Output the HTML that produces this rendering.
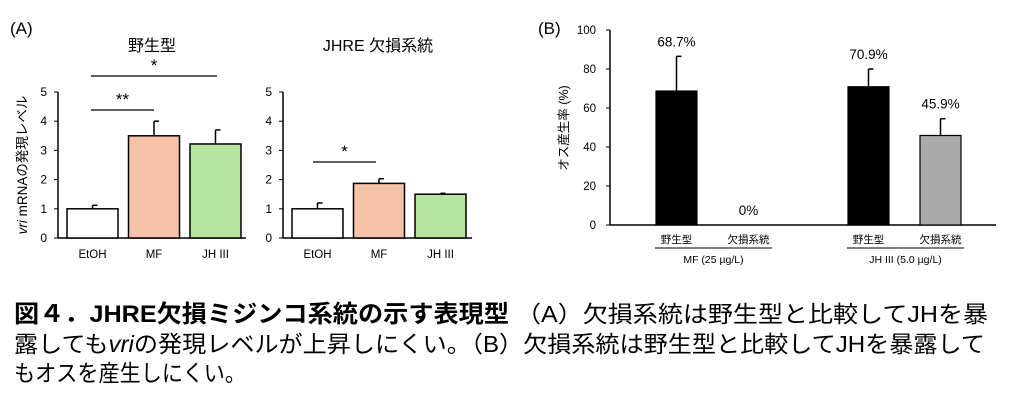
<!DOCTYPE html>
<html><head><meta charset="utf-8"><style>
body{margin:0;background:#fff;width:1024px;height:411px;overflow:hidden}
svg{display:block;font-family:"Liberation Sans","Noto Sans CJK JP",sans-serif}
</style></head><body>
<svg id="s" width="1024" height="411">
<text x="10" y="34" font-size="17">(A)</text>
<text x="152" y="51" font-size="16" text-anchor="middle">野生型</text>
<text x="378" y="51" font-size="16" text-anchor="middle">JHRE 欠損系統</text>
<text transform="translate(27,165) rotate(-90)" font-size="13.5" text-anchor="middle"><tspan font-style="italic">vri</tspan> mRNAの発現レベル</text>
<text x="538" y="34" font-size="17">(B)</text>
<text transform="translate(568,128) rotate(-90)" font-size="12.5" text-anchor="middle">オス産生率 (%)</text>
<text x="14" y="322" font-size="24" font-weight="bold" textLength="495" lengthAdjust="spacingAndGlyphs">図４．JHRE欠損ミジンコ系統の示す表現型</text>
<text x="516" y="322" font-size="23" textLength="472" lengthAdjust="spacingAndGlyphs">（A）欠損系統は野生型と比較してJHを暴</text>
<text x="14" y="352" font-size="23" textLength="971" lengthAdjust="spacingAndGlyphs">露しても<tspan font-style="italic">vri</tspan>の発現レベルが上昇しにくい。（B）欠損系統は野生型と比較してJHを暴露して</text>
<text x="14" y="381" font-size="23" textLength="232" lengthAdjust="spacingAndGlyphs">もオスを産生しにくい。</text>
</svg>
<script>
const catsA=["EtOH","MF","JH III"];
const wtVals=[1.0,3.5,3.22];
const wtErr=[1.12,4.0,3.7];
const koVals=[1.0,1.87,1.5];
const koErr=[1.2,2.03,1.53];
const ticksA=[0,1,2,3,4,5];
const colorsA=["#ffffff","#f5c3a8","#b5e3a0"];
const catsB=["野生型","欠損系統","野生型","欠損系統"];
const valsB=[68.7,0,70.9,45.9];
const errB=[86.5,0,80,54.5];
const labelsB=["68.7%","0%","70.9%","45.9%"];
const groupsB=["MF (25 µg/L)","JH III (5.0 µg/L)"];
const ticksB=[0,20,40,60,80,100];
const colorsB=["#000","#000","#000","#aaa"];

const S=document.getElementById('s');const NS="http://www.w3.org/2000/svg";
function mk(t,a,txt){const e=document.createElementNS(NS,t);for(const k in a)e.setAttribute(k,a[k]);if(txt!==undefined)e.textContent=txt;S.appendChild(e);return e;}

function panelA(ax,vals,errs,name,xL,xR,barX){
  const y=v=>238-v*29.2;
  let e=mk('line',{x1:ax,y1:y(5),x2:ax,y2:238,stroke:'#000','stroke-width':1.5});
  
  e=mk('line',{x1:ax,y1:238,x2:xR,y2:238,stroke:'#000','stroke-width':1.5});
  
  ticksA.forEach(t=>{
    e=mk('line',{x1:ax-4,y1:y(t),x2:ax,y2:y(t),stroke:'#000'});
    
    e=mk('text',{x:ax-11,y:y(t)+4,'font-size':12,'text-anchor':'end'},t);
    
  });
  vals.forEach((v,i)=>{
    const x0=barX+i*61.5,cx=x0+25.5;
    e=mk('line',{x1:cx,y1:y(errs[i]),x2:cx,y2:y(v),stroke:'#000','stroke-width':1.5});
    
    e=mk('line',{x1:cx,y1:y(errs[i]),x2:cx+5,y2:y(errs[i]),stroke:'#000','stroke-width':1.5});
    
    e=mk('rect',{x:x0,y:y(v),width:51,height:v*29.2,fill:colorsA[i],stroke:'#000','stroke-width':1.5});
    
    e=mk('text',{x:cx,y:258,'font-size':11.5,'text-anchor':'middle'},catsA[i]);
    
  });
}
panelA(58,wtVals,wtErr,'wild-type',0,246,67);
panelA(283,koVals,koErr,'jhre',0,472,292);

function sig(x1,x2,yy,txt){
  let e=mk('line',{x1:x1,y1:yy,x2:x2,y2:yy,stroke:'#000','stroke-width':1.3});
  
  e=mk('text',{x:(x1+x2)/2,y:yy-5,'font-size':17,'text-anchor':'middle'},txt);
  
}
sig(91,217,76,'*');sig(91,154,110,'**');sig(313,376,162,'*');

const yB=v=>225-v*1.95;
let e=mk('line',{x1:610,y1:yB(100),x2:610,y2:225,stroke:'#000','stroke-width':1.5});

e=mk('line',{x1:610,y1:225,x2:996,y2:225,stroke:'#000','stroke-width':1.5});

ticksB.forEach(t=>{
  e=mk('line',{x1:606,y1:yB(t),x2:610,y2:yB(t),stroke:'#000'});
  
  e=mk('text',{x:596,y:yB(t)+4,'font-size':11.5,'text-anchor':'end'},t);
  
});
const bx=[656,728,848,920];
valsB.forEach((v,i)=>{
  const cx=bx[i]+20.5;
  if(v>0){
    e=mk('line',{x1:cx,y1:yB(errB[i]),x2:cx,y2:yB(v),stroke:'#000','stroke-width':1.5});
    
    e=mk('line',{x1:cx,y1:yB(errB[i]),x2:cx+5,y2:yB(errB[i]),stroke:'#000','stroke-width':1.5});
    
    e=mk('rect',{x:bx[i],y:yB(v),width:41,height:v*1.95,fill:colorsB[i],stroke:'#000','stroke-width':1.2});
    
  }
  const ly=yB(Math.max(v,errB[i]))-10;
  e=mk('text',{x:cx,y:ly,'font-size':13.5,'text-anchor':'middle'},labelsB[i]);
  
  e=mk('text',{x:cx,y:243,'font-size':10.5,'text-anchor':'middle'},catsB[i]);
  
});
groupsB.forEach((g,j)=>{
  const x1=bx[j*2]-1,x2=bx[j*2+1]+44;
  e=mk('line',{x1:x1,y1:248,x2:x2,y2:248,stroke:'#000'});
  
  e=mk('text',{x:(x1+x2)/2,y:263,'font-size':10.5,'text-anchor':'middle'},g);
  
});
</script>
</body></html>
